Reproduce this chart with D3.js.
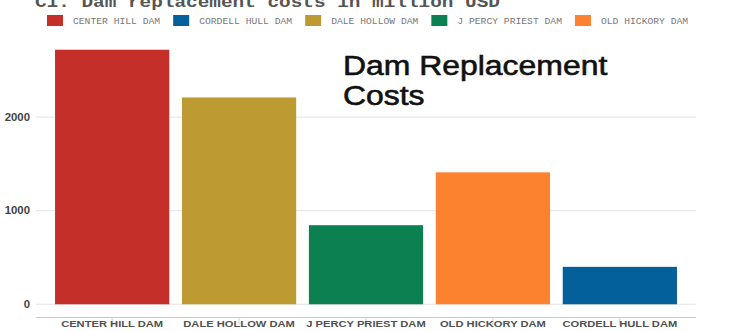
<!DOCTYPE html>
<html>
<head>
<meta charset="utf-8">
<script src="https://cdn.jsdelivr.net/npm/d3@7"></script>
<style>
  html, body { margin: 0; padding: 0; background: #fff; }
  svg { display: block; }
</style>
</head>
<body>
<svg id="chart" width="731" height="331"></svg>
<script>
// Dam replacement costs, million USD
const dams = ["CENTER HILL DAM", "DALE HOLLOW DAM", "J PERCY PRIEST DAM", "OLD HICKORY DAM", "CORDELL HULL DAM"];
const costs = [2720, 2210, 845, 1410, 400];
const legendOrder = ["CENTER HILL DAM", "CORDELL HULL DAM", "DALE HOLLOW DAM", "J PERCY PRIEST DAM", "OLD HICKORY DAM"];
const damColors = ["#C42F2A", "#03609A", "#BE9A32", "#0C8050", "#FD8230"];
const yTicks = [0, 1000, 2000];

const svg = d3.select("#chart");
const stretch = 1.14; // text is set slightly wide

const panel = { left: 36, right: 696, top: 37, bottom: 317 };

const color = d3.scaleOrdinal().domain(legendOrder).range(damColors);

const x = d3.scaleBand()
  .domain(dams)
  .range([panel.left, panel.right])
  .paddingInner(0.1)
  .paddingOuter(0.15);

const maxCost = d3.max(costs);
const y = d3.scaleLinear()
  .domain([-0.05 * maxCost, maxCost * 1.05])
  .range([panel.bottom, panel.top]);

// horizontal grid
svg.append("g")
  .selectAll("line")
  .data(yTicks)
  .join("line")
  .attr("x1", panel.left).attr("x2", panel.right)
  .attr("y1", d => y(d)).attr("y2", d => y(d))
  .attr("stroke", "#e4e4e4")
  .attr("stroke-width", 1);

// bars
svg.append("g")
  .selectAll("rect")
  .data(dams.map((d, i) => ({ dam: d, cost: costs[i] })))
  .join("rect")
  .attr("x", d => x(d.dam))
  .attr("width", x.bandwidth())
  .attr("y", d => y(d.cost))
  .attr("height", d => y(0) - y(d.cost))
  .attr("fill", d => color(d.dam));

// y axis labels
const yAxis = svg.append("g")
  .attr("transform", `translate(${panel.left},0)`)
  .call(d3.axisLeft(y).tickValues(yTicks).tickFormat(d3.format("d")).tickSize(0).tickPadding(6));
yAxis.select(".domain").remove();
yAxis.selectAll("text")
  .attr("fill", "#444")
  .style("font-family", "'Liberation Sans', Arial, sans-serif")
  .style("font-size", "10px")
  .style("font-weight", "bold")
  .each(function () {
    const t = d3.select(this);
    const xx = +t.attr("x");
    t.attr("x", null)
     .attr("transform", `translate(${xx},0) scale(${stretch},1)`);
  });

// x axis
const xAxis = svg.append("g")
  .attr("transform", `translate(0,${panel.bottom})`)
  .call(d3.axisBottom(x).tickSize(8).tickPadding(2).tickSizeOuter(0));
xAxis.select(".domain")
  .attr("stroke", "#c8c8c8")
  .attr("d", `M${panel.left},0.5H${panel.right}`);
xAxis.selectAll(".tick line").attr("stroke", "#d0d0d0");
xAxis.selectAll("text")
  .attr("fill", "#505050")
  .style("font-family", "'Liberation Sans', Arial, sans-serif")
  .style("font-size", "9.5px")
  .style("font-weight", "bold")
  .each(function () {
    const t = d3.select(this);
    t.attr("y", null).attr("dy", null)
     .attr("transform", `translate(0,10) scale(${stretch * 1.03},1)`);
  });

// chart title, partly above the top edge
svg.append("text")
  .attr("transform", `translate(35,7) scale(${stretch},1)`)
  .attr("fill", "#555")
  .style("font-family", "'Liberation Mono', 'Courier New', monospace")
  .style("font-size", "17px")
  .style("font-weight", "bold")
  .text("C1. Dam replacement costs in million USD");

// legend
const legend = svg.append("g");
let lx = 47;
legendOrder.forEach(name => {
  legend.append("rect")
    .attr("x", lx).attr("y", 15)
    .attr("width", 16).attr("height", 11)
    .attr("fill", color(name));
  const t = legend.append("text")
    .attr("transform", `translate(${lx + 26},23.5) scale(${stretch},1)`)
    .attr("fill", "#777")
    .style("font-family", "'Liberation Mono', 'Courier New', monospace")
    .style("font-size", "8.5px")
    .text(name);
  lx += 26 + t.node().getComputedTextLength() * stretch + 13;
});

// overlay heading
const heading = svg.append("text")
  .attr("fill", "#111")
  .attr("stroke", "#111")
  .attr("stroke-width", 0.6)
  .style("font-family", "'Liberation Sans', Arial, sans-serif")
  .style("font-size", "28px");
heading.append("tspan")
  .attr("x", 0).attr("y", 0)
  .text("Dam Replacement");
heading.append("tspan")
  .attr("x", 0).attr("y", 30)
  .text("Costs");
heading.attr("transform", `translate(343,75) scale(${stretch},1)`);
</script>
</body>
</html>
